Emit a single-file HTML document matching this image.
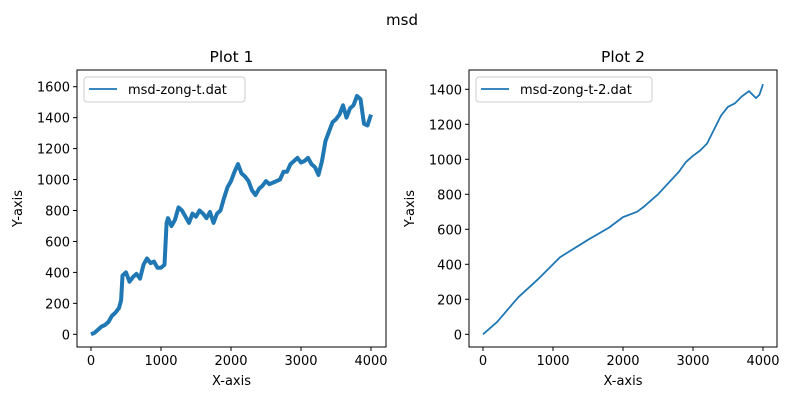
<!DOCTYPE html>
<html><head><meta charset="utf-8"><style>body{margin:0;background:#fff}svg{display:block;font-family:"DejaVu Sans","Liberation Sans",sans-serif}</style></head>
<body>
<svg id="fig" width="805" height="405">
<text x="402" y="25" font-size="15" text-anchor="middle">msd</text>
</svg>
<script>
const x1 = [0,50,100,150,200,250,300,350,400,430,450,500,550,600,650,700,750,800,850,900,950,1000,1050,1080,1100,1150,1200,1250,1300,1350,1400,1450,1500,1550,1600,1650,1700,1750,1800,1850,1900,1950,2000,2050,2100,2150,2200,2250,2300,2350,2400,2450,2500,2550,2600,2650,2700,2750,2800,2850,2900,2950,3000,3050,3100,3150,3200,3250,3300,3350,3400,3450,3500,3550,3600,3650,3700,3750,3800,3850,3900,3950,4000];
const y1 = [0,10,30,50,60,80,120,140,170,220,380,400,340,370,390,360,450,490,460,470,430,430,450,720,750,700,740,820,800,760,720,780,760,800,780,750,790,720,780,800,880,950,990,1050,1100,1040,1020,990,930,900,940,960,990,970,980,990,1000,1050,1050,1100,1120,1140,1110,1120,1140,1100,1080,1030,1120,1250,1310,1370,1390,1420,1480,1400,1460,1480,1540,1520,1360,1350,1420];
const x2 = [0,200,500,800,1000,1100,1200,1500,1800,2000,2200,2300,2500,2800,2900,3000,3100,3200,3300,3400,3500,3600,3700,3800,3900,3950,4000];
const y2 = [0,70,210,320,400,440,465,540,610,670,700,730,800,930,985,1020,1050,1090,1170,1250,1300,1320,1360,1390,1350,1370,1430];
const xticks = [0,1000,2000,3000,4000];
const yticks1 = [0,200,400,600,800,1000,1200,1400,1600];
const yticks2 = [0,200,400,600,800,1000,1200,1400];
const NS='http://www.w3.org/2000/svg', fig=document.getElementById('fig');
function mk(t,a,p){const e=document.createElementNS(NS,t);for(const k in a)e.setAttribute(k,a[k]);(p||fig).appendChild(e);return e;}
function panel(id,L,R,T,B,x0,x4,y0,yt,yv,xs,ys,yticks,title,label){
  const g=mk('g',{});
  
  
  const sx=v=>x0+v*(x4-x0)/4000, sy=v=>y0-v*(y0-yt)/yv;
  const pts=xs.map((v,i)=>sx(v).toFixed(1)+','+sy(ys[i]).toFixed(1)).join(' ');
  const ln=mk('polyline',{points:pts,fill:'none',stroke:'#1f77b4','stroke-width':id==='plot-1'?4:1.8,'stroke-linejoin':'round'},g);
  
  
  const fr=mk('rect',{x:L,y:T,width:R-L,height:B-T,fill:'none',stroke:'#000','stroke-width':1},g);
  
  
  xticks.forEach(v=>{const X=sx(v);mk('line',{x1:X,x2:X,y1:B,y2:B+4,stroke:'#000'},g);
    const t=mk('text',{x:X,y:B+18,'font-size':13,'text-anchor':'middle'},g);t.textContent=v;
    
    });
  yticks.forEach(v=>{const Y=sy(v);mk('line',{x1:L-4,x2:L,y1:Y,y2:Y,stroke:'#000'},g);
    const t=mk('text',{x:L-7,y:Y+5,'font-size':13,'text-anchor':'end'},g);t.textContent=v;
    
    });
  const ti=mk('text',{x:(L+R)/2,y:T-8,'font-size':15.5,'text-anchor':'middle'},g);ti.textContent=title;
  
  
  const xl=mk('text',{x:(L+R)/2,y:B+38,'font-size':13,'text-anchor':'middle'},g);xl.textContent='X-axis';
  
  
  const yl=mk('text',{x:0,y:0,'font-size':13,'text-anchor':'middle',transform:`translate(${id==='plot-1'?22:414},${(T+B)/2}) rotate(-90)`},g);yl.textContent='Y-axis';
  
  
  const lw=label.length*7.5+56;
  const lg=mk('g',{},g);
  
  
  mk('rect',{x:L+7,y:T+7,width:lw,height:25,rx:3,fill:'#fff',stroke:'#ccc'},lg);
  mk('line',{x1:L+12,x2:L+40,y1:T+19,y2:T+19,stroke:'#1f77b4','stroke-width':1.8},lg);
  const lt=mk('text',{x:L+51,y:T+24,'font-size':13},lg);lt.textContent=label;
  
  
}
panel('plot-1',77,386,70,347,91,371,334.3,86.7,1600,x1,y1,yticks1,'Plot 1','msd-zong-t.dat');
panel('plot-2',469,777,70,347,483,763,334.3,89.3,1400,x2,y2,yticks2,'Plot 2','msd-zong-t-2.dat');
</script>
</body></html>
